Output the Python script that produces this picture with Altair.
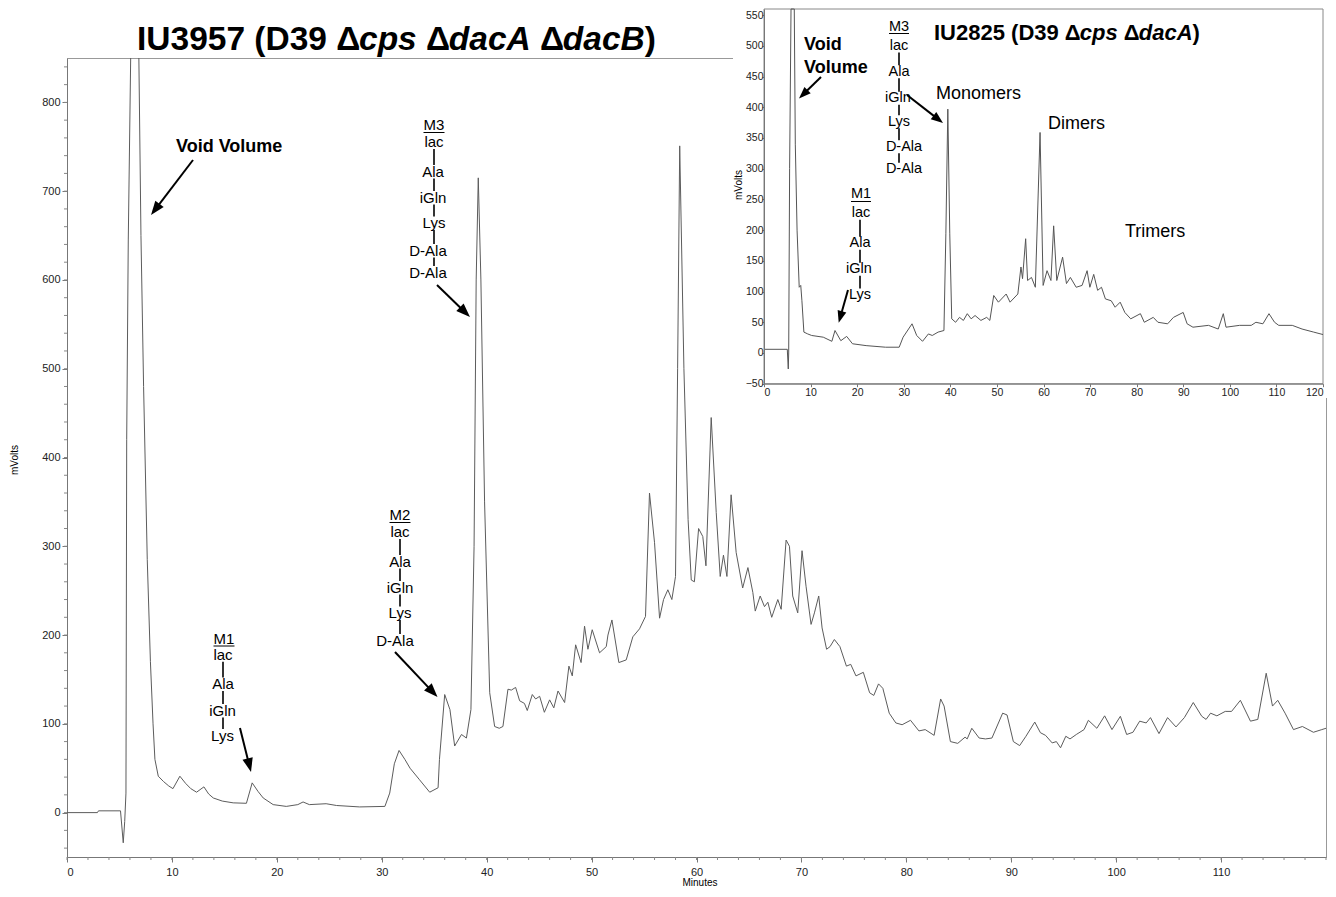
import math
import altair as alt
import pandas as pd

# ---------------- data ----------------
# main chromatogram: IU3957 (minutes, mVolts)
main_trace = [
    (0, 0), (2.9, 0), (3.0, 2), (5.1, 2), (5.36, -34), (5.5, -10), (5.62, 22), (5.69, 420),
    (5.84, 645), (6.07, 850), (6.3, 1100), (6.75, 1000), (6.85, 850), (7.05, 650), (7.3, 480),
    (7.65, 285), (7.95, 170), (8.2, 100), (8.38, 60), (8.7, 41), (9.2, 35), (9.7, 30), (10.1, 27),
    (10.76, 41), (11.3, 33), (11.8, 27), (12.35, 23), (13.05, 29), (13.5, 21), (13.94, 16.5),
    (14.8, 13), (15.84, 11), (17.1, 10.5), (17.65, 33.5), (18.2, 24), (18.7, 16.5), (19.65, 9),
    (20.9, 7), (22.0, 9), (22.5, 12), (23.1, 9), (24.7, 10), (25.7, 8), (27.9, 6.4), (30.3, 7),
    (30.76, 22), (31.2, 55), (31.65, 70), (32.2, 60), (32.7, 50), (33.6, 37), (34.57, 23),
    (35.37, 28), (35.5, 60), (36.0, 133), (36.5, 116), (36.95, 75), (37.6, 88), (38.07, 84),
    (38.5, 116), (38.8, 300), (39.0, 600), (39.2, 715), (39.45, 600), (39.8, 350), (40.29, 135),
    (40.76, 97), (41.2, 95), (41.55, 97), (42.03, 139), (42.35, 138), (42.76, 141), (43.14, 126),
    (43.6, 123), (43.87, 115), (44.35, 133), (44.67, 128), (45.05, 131), (45.5, 113), (46.0, 127),
    (46.4, 118), (46.8, 137), (47.43, 124), (47.84, 165), (48.16, 154), (48.48, 189), (49.0, 169),
    (49.33, 210), (49.65, 184), (50.06, 206), (50.76, 180), (51.4, 187), (51.56, 200), (51.94, 217),
    (52.6, 169), (53.3, 172), (53.93, 198), (54.57, 207), (55.14, 221), (55.52, 360), (56.0, 304),
    (56.48, 219), (56.86, 240), (57.27, 251), (57.65, 240), (58.0, 266), (58.2, 500), (58.4, 751),
    (58.8, 500), (59.2, 330), (59.5, 262), (59.8, 260), (60.2, 320), (60.6, 311), (60.9, 278),
    (61.4, 445), (61.88, 338), (62.26, 266), (62.57, 290), (62.9, 266), (63.3, 358), (63.78, 293),
    (64.4, 253), (64.9, 276), (65.37, 248), (65.6, 227), (66.07, 244), (66.48, 232), (66.8, 237),
    (67.17, 220), (67.75, 240), (68.07, 229), (68.54, 307), (68.86, 300), (69.17, 244), (69.65, 225),
    (70.06, 295), (70.44, 255), (70.92, 212), (71.24, 225), (71.65, 244), (71.97, 208), (72.4, 184),
    (72.73, 187), (73.14, 195), (73.67, 187), (74.29, 165), (74.7, 167), (75.2, 154), (75.9, 158),
    (76.5, 135), (76.9, 132), (77.35, 145), (77.76, 140), (78.37, 112), (79.0, 101), (79.6, 99),
    (80.4, 104), (81.2, 92), (81.8, 93.5), (82.65, 87), (83.27, 128), (83.6, 120), (84.2, 80),
    (84.9, 78), (85.6, 85), (85.8, 83), (86.24, 95), (86.94, 84), (87.55, 83), (88.16, 84),
    (89.18, 112), (89.6, 110), (90.2, 80), (90.8, 75.5), (91.4, 86), (92.24, 102), (92.78, 90),
    (93.27, 87), (93.9, 78.5), (94.3, 80), (94.7, 73), (95.2, 86), (95.6, 83), (96.2, 88),
    (96.94, 93.5), (97.35, 104), (98.16, 95), (98.9, 109), (99.6, 93.5), (100.4, 108.5), (101.0, 88),
    (101.6, 90.5), (102.24, 103), (102.86, 101), (103.27, 107), (104.08, 89), (104.9, 107),
    (105.7, 96.5), (106.5, 107), (107.35, 124), (108.16, 108.5), (108.57, 105), (109.0, 112),
    (109.6, 109), (110.4, 114), (111.0, 114), (111.84, 126.5), (112.8, 103), (113.5, 105),
    (114.3, 157), (114.9, 120), (115.4, 126.5), (116.1, 112), (116.9, 93.5), (117.75, 97),
    (118.8, 90.5), (119.6, 93.5), (120, 95),
]

# inset chromatogram: IU2825 (minutes, mVolts)
inset_trace = [
    (0, 6), (5.0, 6), (5.21, -26), (5.3, 0), (5.5, 300), (5.8, 600), (6.3, 650), (6.5, 600),
    (6.72, 340), (7.1, 200), (7.56, 107), (7.89, 110), (8.14, 85), (8.56, 34), (9.39, 31),
    (10.23, 28.5), (12.73, 25.7), (14.57, 19), (15.24, 36.6), (16.49, 20), (17.75, 27), (19.0, 15),
    (21.92, 12), (26.1, 9.4), (29.02, 9.4), (29.86, 25.7), (31.78, 47.5), (32.78, 28.5), (34.03, 19),
    (35.29, 31), (36.12, 28.5), (37.37, 34), (38.63, 36.6), (39.04, 194), (39.46, 397), (39.88, 194),
    (40.3, 55.6), (41.13, 50), (41.97, 58), (42.8, 53), (43.64, 64), (44.47, 55.6), (45.31, 61),
    (46.56, 53), (47.81, 58), (48.48, 53), (49.32, 93.6), (50.32, 82.7), (51.99, 96), (52.82, 82.7),
    (54.49, 96), (55.16, 140), (55.5, 121), (56.17, 186), (56.58, 118), (57.42, 123), (58.25, 107),
    (59.26, 359), (59.92, 110), (60.76, 134), (61.6, 118), (62.18, 207), (62.85, 118), (64.1, 156),
    (64.93, 113), (65.77, 123), (67.02, 107), (68.28, 110), (69.36, 134), (69.95, 107), (70.78, 128),
    (71.62, 102), (72.45, 107), (73.29, 88), (74.54, 85), (75.38, 74.5), (76.46, 82.7), (77.46, 66),
    (78.72, 55.6), (80.8, 64), (81.64, 50), (83.56, 58), (84.56, 50), (86.65, 47.5), (87.9, 58),
    (89.99, 66), (90.83, 47.5), (92.08, 42), (95.42, 45), (97.51, 39), (98.6, 64), (99.18, 42),
    (102.1, 45), (104.6, 45), (105.6, 50), (107.1, 47.5), (108.4, 64), (109.6, 50), (110.5, 45),
    (113.4, 45), (115.5, 39), (118.0, 34), (120, 30),
]

main_x_ticks = list(range(0, 120, 10))
main_y_ticks = list(range(0, 900, 100))
main_x_minor = list(range(0, 121, 2))
main_y_minor = list(range(-40, 850, 20))
inset_x_ticks = list(range(0, 121, 10))
inset_y_ticks = list(range(-50, 551, 50))

# title pieces: (text, italic); spaces are kept as separate pieces
main_title = [("IU3957 (D39", False), (" ", False), ("Δ", False), ("cps", True), (" ", False),
              ("Δ", False), ("dacA", True), (" ", False), ("Δ", False), ("dacB", True), (")", False)]
inset_title = [("IU2825 (D39", False), (" ", False), ("Δ", False), ("cps", True), (" ", False),
               ("Δ", False), ("dacA", True), (")", False)]

main_m3 = ["M3", "lac", "Ala", "iGln", "Lys", "D-Ala", "D-Ala"]
main_m2 = ["M2", "lac", "Ala", "iGln", "Lys", "D-Ala"]
main_m1 = ["M1", "lac", "Ala", "iGln", "Lys"]

# ---------------- layout ----------------
FONT = "Liberation Sans"
OX, OY = 67, 58          # page position of the main plot area
W, H = 1259, 799
ONE = alt.Data(values=[{"k": 0}])


def text(s, x, y, size, weight="normal", style="normal", align="center",
         baseline="middle", angle=0, color="black"):
    kw = dict(text=s, font=FONT, fontSize=size, fontWeight=weight, fontStyle=style,
              align=align, baseline=baseline, color=color)
    if angle:
        kw["angle"] = angle
    return alt.Chart(ONE).mark_text(**kw).encode(x=alt.value(x - OX), y=alt.value(y - OY))


def seg(x1, y1, x2, y2, w=1.5, color="black"):
    return alt.Chart(ONE).mark_rule(color=color, strokeWidth=w).encode(
        x=alt.value(x1 - OX), y=alt.value(y1 - OY), x2=alt.value(x2 - OX), y2=alt.value(y2 - OY))


HEAD = "M0,0 L-0.75,2 L0.75,2 Z"


def arrow(x1, y1, x2, y2, head=13, w=2):
    dx, dy = x2 - x1, y2 - y1
    L = math.hypot(dx, dy)
    ux, uy = dx / L, dy / L
    ang = math.degrees(math.atan2(ux, -uy)) % 360
    bx, by = x2 - ux * head * 0.8, y2 - uy * head * 0.8
    tip = alt.Chart(ONE).mark_point(shape=HEAD, filled=True, color="black", opacity=1,
                                    size=head * head, angle=ang, strokeWidth=0).encode(
        x=alt.value(x2 - OX), y=alt.value(y2 - OY))
    return [seg(x1, y1, bx, by, w), tip]


def stack(labels, xs, ys, size, conn_x, ul_y, ul_w):
    marks = [text(s, x, y, size) for s, x, y in zip(labels, xs, ys)]
    marks.append(seg(xs[0] - ul_w / 2, ul_y, xs[0] + ul_w / 2, ul_y, 1))
    for i in range(1, len(labels) - 1):
        marks.append(seg(conn_x, ys[i] + size * 0.45, conn_x, ys[i + 1] - size * 0.45, 1.6))
    return marks


BOLD_W = {'I': .278, 'U': .722, '2': .556, '3': .556, '5': .556, '7': .556, '8': .556, '9': .556,
          ' ': .278, '(': .333, ')': .333, 'D': .722, 'Δ': .68, 'c': .556, 'p': .611, 's': .556,
          'd': .611, 'a': .556, 'A': .722, 'B': .722}


def rich_title(parts, x0, base, size):
    marks, x = [], x0
    for s, it in parts:
        if s.strip():
            marks.append(text(s, x, base, size, weight="bold", style="italic" if it else "normal",
                              align="left", baseline="alphabetic"))
        x += sum(BOLD_W[c] for c in s) * size
    return marks


# ---------------- main chart ----------------
main_df = pd.DataFrame(main_trace, columns=["min", "mv"])
xs_main = alt.Scale(domain=[0, 120], nice=False, zero=False)
ys_main = alt.Scale(domain=[-50, 850], nice=False, zero=False)
ax_common = dict(title=None, grid=False, tickSize=5, tickColor="#777", domainColor="#777",
                 labelFont=FONT, labelFontSize=11, labelColor="#222")
ax_x = alt.Axis(values=main_x_ticks, labelPadding=4, **ax_common)
ax_y = alt.Axis(values=main_y_ticks, labelPadding=2, **ax_common)

main_line = alt.Chart(main_df).mark_line(color="#5c5c5c", strokeWidth=1, clip=True).encode(
    x=alt.X("min:Q", scale=xs_main, axis=ax_x),
    y=alt.Y("mv:Q", scale=ys_main, axis=ax_y),
)
x_minor = alt.Chart(pd.DataFrame({"min": main_x_minor})).mark_rule(color="#888", strokeWidth=1).encode(
    x=alt.X("min:Q", scale=xs_main, axis=ax_x), y=alt.value(H), y2=alt.value(H + 3))
y_minor = alt.Chart(pd.DataFrame({"mv": main_y_minor})).mark_rule(color="#888", strokeWidth=1).encode(
    y=alt.Y("mv:Q", scale=ys_main, axis=ax_y), x=alt.value(-3), x2=alt.value(0))
main_layer = alt.layer(main_line, x_minor, y_minor)

# ---------------- inset ----------------
IX0, IX1 = 764 - OX, 1323 - OX
IY_BOT, IY_TOP = 383.7 - OY, 9 - OY
inset_df = pd.DataFrame(inset_trace, columns=["t", "v"])
xs_in = alt.Scale(domain=[0, 120], range=[IX0, IX1], nice=False, zero=False)
ys_in = alt.Scale(domain=[-50, 560], range=[IY_BOT, IY_TOP], nice=False, zero=False, clamp=True)
ax_in = dict(title=None, grid=False, tickColor="#777", domainColor="#777",
             labelFont=FONT, labelFontSize=10.5, labelColor="#222", zindex=1)

inset_bg = alt.Chart(ONE).mark_rect(color="white").encode(
    x=alt.value(733 - OX), x2=alt.value(1340 - OX), y=alt.value(-OY - 2), y2=alt.value(398 - OY))
inset_frame = alt.Chart(ONE).mark_rect(fillOpacity=0, stroke="#888", strokeWidth=1).encode(
    x=alt.value(IX0), x2=alt.value(IX1), y=alt.value(IY_TOP), y2=alt.value(IY_BOT))
inset_line = alt.Chart(inset_df).mark_line(color="#555", strokeWidth=1).encode(
    x=alt.X("t:Q", scale=xs_in,
            axis=alt.Axis(orient="bottom", offset=IY_BOT - H, values=inset_x_ticks, tickSize=3,
                          labelPadding=1, **ax_in)),
    y=alt.Y("v:Q", scale=ys_in,
            axis=alt.Axis(orient="left", offset=-IX0, values=inset_y_ticks, tickSize=2,
                          labelPadding=-1, **ax_in)),
)

# ---------------- annotations ----------------
ann = []
ann += rich_title(main_title, 137, 50, 33.5)
ann += rich_title(inset_title, 934, 39.5, 22)
ann.append(text("mVolts", 15, 460, 10, angle=270))
ann.append(text("Minutes", 700, 883, 10))
ann.append(text("mVolts", 739, 185, 10, angle=270))

# main chart labels
ann.append(text("Void Volume", 176, 151.5, 18, weight="bold", align="left", baseline="alphabetic"))
ann += arrow(193, 160, 151, 215, head=14)
ann += stack(main_m3, [434, 434, 433, 433, 434, 428, 428],
             [125, 142.3, 171.7, 197.7, 223.3, 250.7, 272.7], 15, 434, 132.5, 21)
ann += arrow(437, 285, 470, 317, head=14)
ann += stack(main_m2, [400, 400, 400, 400, 400, 395],
             [515, 532.3, 561.7, 587.7, 613.3, 640.7], 15, 400, 522.5, 21)
ann += arrow(395, 652, 437.5, 697, head=14)
ann += stack(main_m1, [224, 223, 223, 222.5, 222.5],
             [639, 655, 684.3, 710.7, 735.7], 15, 223, 646, 21)
ann += arrow(240, 728, 251, 772, head=14)

# inset labels
ann.append(text("Void", 804, 49.5, 18, weight="bold", align="left", baseline="alphabetic"))
ann.append(text("Volume", 804, 73, 18, weight="bold", align="left", baseline="alphabetic"))
ann += arrow(821, 77, 799, 98.5, head=12)
ann += stack(main_m3, [899, 899, 899, 898, 899, 904, 904],
             [26.7, 46, 71.7, 98.3, 121.7, 146.7, 169.3], 14.5, 899, 33.5, 20)
ann += arrow(907, 95, 943, 123, head=12)
ann += stack(main_m1, [861, 861, 860, 859, 860],
             [194.3, 213.3, 243.3, 269.3, 295], 14.5, 860, 201.5, 20)
ann += arrow(848, 290, 838.7, 322.7, head=12)
ann.append(text("Monomers", 936, 98.5, 18, align="left", baseline="alphabetic"))
ann.append(text("Dimers", 1048, 129, 18, align="left", baseline="alphabetic"))
ann.append(text("Trimers", 1125, 236.5, 18, align="left", baseline="alphabetic"))

chart = alt.layer(main_layer, inset_bg, inset_frame, inset_line, *ann).resolve_scale(
    x="independent", y="independent"
).properties(
    width=W, height=H,
    padding={"left": OX - 8, "top": OY - 8, "right": 2, "bottom": 32},
    autosize=alt.AutoSizeParams(type="none"),
    background="white",
).configure_view(stroke="#999", strokeWidth=1)

chart.save("out.html", embed_options={"renderer": "svg", "actions": False})
